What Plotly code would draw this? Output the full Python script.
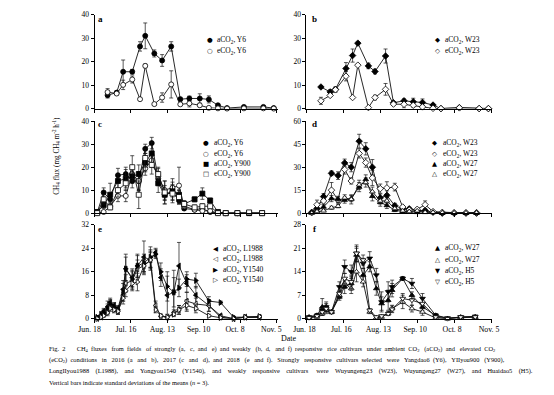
import re
import plotly.graph_objects as go

W, H = 554, 395
SERIF = "Liberation Serif"

# ---------------- data (days after Jun. 18) ----------------
tick_days = [0, 28, 56, 84, 112, 140]
tick_labels = ["Jun. 18", "Jul. 16", "Aug. 13", "Sep. 10", "Oct. 8", "Nov. 5"]

# Panel a (2016)
a_days = [10, 17, 22, 29, 35, 39, 46, 52, 59, 66, 73, 81, 88, 95, 102, 115, 130, 138]
a_aY6 = [5.7, 6.8, 15.7, 15.7, 26.5, 31.0, 23.5, 20.5, 26.5, 4.0, 4.3, 4.3, 3.9, 1.4, 0.2, 0.7, 0.7, 0.2]
a_aY6_sd = [1.2, 0.6, 5.0, 1.0, 2.0, 5.5, 1.5, 2.5, 2.0, 0.8, 1.0, 2.0, 1.5, 0.5, 0.1, 0.3, 0.3, 0.1]
a_eY6 = [7.0, 6.4, 10.1, 12.4, 4.0, 18.2, 1.9, 4.7, 10.3, 1.8, 2.2, 1.4, 0.3, 0.1, 0.0, 0.1, 0.1, 0.0]
a_eY6_sd = [1.5, 0.5, 2.0, 1.5, 0.5, 0.8, 0.3, 2.0, 5.8, 0.5, 1.5, 0.6, 0.2, 0.1, 0.0, 0.1, 0.1, 0.0]

# Panel b (2016)
b_days = [11, 18, 22, 30, 35, 39, 47, 52, 60, 66, 74, 81, 88, 96, 102, 116, 131, 138]
b_aW23 = [9.2, 7.1, 8.2, 17.1, 22.6, 27.9, 18.2, 15.8, 22.4, 2.5, 3.3, 2.9, 2.6, 1.5, 0.0, 0.4, 0.0, 0.0]
b_aW23_sd = [0.5, 1.0, 1.0, 2.5, 2.8, 0.5, 1.2, 1.0, 3.0, 0.5, 0.8, 1.5, 1.5, 0.5, 0.0, 0.2, 0.0, 0.0]
b_eW23 = [3.3, 5.6, 8.0, 13.8, 4.7, 18.5, 0.4, 4.7, 8.2, 1.9, 1.8, 1.4, 0.7, 0.1, 0.0, 0.3, 0.0, 0.0]
b_eW23_sd = [1.5, 0.5, 1.0, 2.0, 0.3, 0.5, 0.2, 1.0, 2.5, 0.5, 1.5, 0.8, 0.5, 0.1, 0.0, 0.1, 0.0, 0.0]

# Panel c (2017)
c_days = [2, 7, 12, 18, 24, 29, 34, 39, 44, 49, 54, 60, 65, 69, 77, 83, 89, 95, 101, 110, 119, 129]
c_aY6 = [0.3, 9.0, 6.0, 16.5, 17.0, 14.0, 14.0, 28.0, 30.5, 15.0, 8.0, 9.0, 5.5, 2.0, 1.5, 2.0, 0.5, 0.0, 0.0, 0.0, 0.0, 0.0]
c_aY6_sd = [0.2, 2.0, 1.5, 3.0, 3.0, 3.0, 4.0, 2.0, 2.5, 3.0, 2.5, 3.0, 1.5, 0.5, 0.5, 0.5, 0.3, 0.0, 0.0, 0.0, 0.0, 0.0]
c_eY6 = [0.0, 0.5, 3.0, 7.5, 7.5, 17.0, 14.0, 19.5, 23.0, 16.0, 10.0, 11.0, 12.0, 3.0, 1.5, 1.0, 1.0, 0.0, 0.0, 0.0, 0.0, 0.0]
c_eY6_sd = [0.0, 0.5, 1.0, 2.5, 2.5, 3.0, 4.0, 3.0, 3.0, 3.5, 4.0, 4.0, 8.0, 1.0, 0.5, 0.5, 0.5, 0.0, 0.0, 0.0, 0.0, 0.0]
c_aY900 = [0.5, 3.5, 8.0, 14.0, 15.0, 16.0, 17.0, 22.0, 26.0, 13.0, 8.0, 9.5, 8.0, 4.0, 6.0, 8.5, 5.5, 0.5, 0.0, 0.0, 0.0, 0.0]
c_aY900_sd = [0.3, 1.5, 5.0, 3.0, 4.0, 3.0, 4.0, 4.0, 5.0, 4.0, 4.0, 4.0, 2.0, 1.0, 1.0, 2.5, 1.0, 0.3, 0.0, 0.0, 0.0, 0.0]
c_eY900 = [0.0, 6.0, 2.5, 10.0, 13.0, 20.0, 8.0, 24.0, 21.0, 17.0, 9.0, 8.5, 7.0, 4.0, 2.5, 3.0, 3.0, 0.0, 0.0, 0.0, 0.3, 0.0]
c_eY900_sd = [0.0, 2.0, 1.0, 3.0, 3.0, 5.0, 6.0, 4.0, 4.0, 3.0, 5.0, 4.0, 3.0, 1.5, 1.0, 1.0, 1.0, 0.0, 0.0, 0.0, 0.2, 0.0]

# Panel d (2017)
d_days = [4, 8, 13, 19, 24, 29, 34, 40, 45, 50, 56, 61, 67, 73, 78, 84, 90, 96, 103, 112, 121, 129]
d_aW23 = [0.5, 3.0, 10.8, 26.0, 24.5, 32.8, 30.0, 47.0, 42.0, 30.0, 10.0, 11.6, 4.9, 2.8, 2.8, 1.7, 1.7, 0.6, 0.0, 0.0, 0.0, 0.0]
d_aW23_sd = [0.3, 1.5, 2.0, 1.5, 2.5, 2.5, 3.0, 4.5, 4.0, 5.0, 2.5, 3.0, 1.5, 1.0, 1.0, 0.5, 0.5, 0.3, 0.0, 0.0, 0.0, 0.0]
d_eW23 = [0.3, 5.5, 8.0, 15.0, 8.5, 28.5, 21.0, 39.0, 33.0, 23.0, 16.0, 16.5, 17.0, 4.0, 2.0, 2.5, 5.5, 1.0, 0.5, 0.3, 0.3, 0.3]
d_eW23_sd = [0.2, 3.0, 2.0, 5.0, 2.0, 3.0, 2.0, 3.0, 3.0, 5.0, 3.0, 4.0, 2.5, 1.0, 1.0, 1.0, 2.5, 0.5, 0.2, 0.1, 0.1, 0.1]
d_aW27 = [0.5, 1.5, 4.0, 9.5, 9.0, 8.5, 9.5, 17.0, 22.0, 11.0, 7.0, 5.0, 2.0, 1.0, 1.0, 0.5, 1.0, 0.5, 0.0, 0.0, 0.0, 0.0]
d_aW27_sd = [0.2, 1.0, 1.5, 2.0, 2.0, 2.0, 2.0, 3.0, 3.0, 3.0, 2.5, 2.0, 1.0, 0.5, 0.5, 0.3, 0.5, 0.3, 0.0, 0.0, 0.0, 0.0]
d_eW27 = [0.0, 1.0, 1.5, 3.5, 4.5, 10.0, 9.0, 18.5, 20.0, 14.0, 8.0, 8.0, 3.0, 1.5, 1.0, 1.5, 0.5, 0.5, 0.3, 0.2, 0.2, 0.2]
d_eW27_sd = [0.0, 0.5, 0.5, 1.0, 1.0, 2.0, 3.0, 3.0, 3.0, 3.0, 2.0, 2.0, 1.0, 0.5, 0.5, 0.5, 0.3, 0.2, 0.1, 0.1, 0.1, 0.1]

# Panel e (2018)
e_days = [2, 5, 7, 10, 12, 15, 18, 22, 24, 29, 33, 38, 43, 47, 51, 56, 61, 65, 71, 78, 88, 97, 107, 116, 127]
e_aL1988 = [0.3, 1.0, 2.5, 4.0, 5.5, 4.5, 3.5, 10.0, 17.0, 14.0, 18.0, 21.0, 20.0, 22.5, 14.0, 8.0, 9.0, 18.0, 12.0, 8.0, 4.5, 1.0, 0.0, 0.5, 0.5]
e_aL1988_sd = [0.2, 0.5, 1.0, 2.0, 1.5, 1.0, 1.0, 3.0, 5.0, 3.0, 4.0, 5.5, 3.5, 1.5, 3.0, 6.5, 7.5, 8.0, 3.0, 3.0, 2.0, 0.5, 0.0, 0.3, 0.3]
e_eL1988 = [0.0, 0.5, 1.5, 2.5, 4.5, 3.5, 2.5, 8.0, 12.0, 13.0, 17.0, 18.0, 20.0, 4.5, 0.8, 0.5, 2.0, 3.0, 6.0, 5.0, 4.5, 0.5, 0.0, 0.5, 0.5]
e_eL1988_sd = [0.0, 0.3, 0.5, 1.0, 1.5, 1.0, 1.0, 2.0, 3.0, 3.0, 3.0, 2.0, 2.5, 1.5, 0.3, 0.3, 1.0, 1.5, 3.0, 2.0, 2.0, 0.3, 0.0, 0.3, 0.3]
e_aY1540 = [0.5, 1.5, 2.0, 3.5, 5.0, 4.0, 3.0, 9.0, 17.0, 13.5, 18.0, 19.0, 21.0, 22.0, 16.0, 11.0, 9.0, 10.5, 13.5, 13.0, 6.0, 5.5, 0.5, 0.5, 0.7]
e_aY1540_sd = [0.3, 0.8, 1.0, 1.5, 1.5, 1.0, 1.0, 3.0, 4.0, 3.0, 3.5, 3.0, 3.5, 1.5, 3.0, 5.0, 5.0, 3.0, 2.5, 2.5, 1.5, 0.5, 0.2, 0.3, 0.3]
e_eY1540 = [0.0, 0.5, 1.0, 2.0, 3.5, 3.0, 2.5, 7.0, 9.5, 12.0, 12.5, 18.0, 20.0, 3.0, 1.0, 0.5, 1.5, 3.0, 4.5, 3.5, 1.0, 0.3, 0.0, 0.5, 0.7]
e_eY1540_sd = [0.0, 0.3, 0.5, 1.0, 1.0, 1.0, 1.0, 2.0, 2.0, 2.5, 3.0, 3.0, 3.0, 1.0, 0.3, 0.3, 0.8, 1.5, 2.0, 1.5, 0.5, 0.2, 0.0, 0.2, 0.3]

# Panel f (2018)
f_days = [2, 8, 12, 15, 19, 25, 29, 34, 38, 43, 48, 53, 57, 62, 65, 73, 80, 88, 98, 107, 117, 128]
f_aW27 = [0.5, 1.0, 3.5, 3.5, 2.0, 6.5, 9.5, 10.5, 19.0, 13.0, 15.5, 9.0, 4.5, 5.5, 8.5, 12.0, 7.0, 3.5, 1.0, 0.0, 0.5, 0.5]
f_aW27_sd = [0.2, 0.5, 2.5, 1.5, 0.5, 1.0, 2.0, 2.0, 2.0, 2.0, 1.5, 2.0, 2.0, 3.0, 2.0, 0.5, 1.0, 1.0, 0.5, 0.0, 0.3, 0.3]
f_aH5 = [0.5, 1.0, 2.5, 3.5, 2.0, 9.5, 15.5, 14.0, 19.5, 16.5, 18.0, 13.0, 5.0, 8.0, 9.5, 12.0, 10.5, 6.0, 1.0, 0.2, 0.5, 0.7]
f_aH5_sd = [0.2, 0.5, 1.0, 1.0, 0.5, 1.5, 2.0, 2.0, 2.5, 1.5, 2.0, 2.0, 3.0, 3.0, 2.0, 0.5, 1.5, 1.5, 0.5, 0.1, 0.3, 0.3]
f_eW27 = [0.3, 0.5, 1.5, 2.5, 2.0, 7.0, 10.5, 9.0, 14.0, 11.0, 2.0, 0.3, 0.5, 1.5, 3.0, 5.0, 3.0, 2.0, 0.2, 0.0, 0.3, 0.5]
f_eW27_sd = [0.1, 0.3, 0.5, 1.0, 0.5, 1.0, 1.5, 1.5, 3.0, 1.5, 0.5, 0.2, 0.3, 0.5, 1.0, 2.0, 1.0, 1.0, 0.1, 0.0, 0.1, 0.2]
f_eH5 = [0.3, 0.8, 2.0, 3.0, 2.0, 7.5, 12.0, 11.0, 19.5, 17.5, 2.5, 0.5, 0.8, 1.5, 2.8, 6.0, 5.5, 4.5, 0.5, 0.0, 0.5, 0.5]
f_eH5_sd = [0.1, 0.3, 0.5, 1.0, 0.5, 1.0, 1.5, 2.0, 2.0, 1.5, 0.5, 0.2, 0.3, 0.5, 1.0, 1.5, 1.5, 1.5, 0.2, 0.0, 0.2, 0.2]

caption = [
    "Fig. 2   CH<sub>4</sub> fluxes from fields of strongly (a, c, and e) and weakly (b, d, and f) responsive rice cultivars under ambient CO<sub>2</sub> (aCO<sub>2</sub>) and elevated CO<sub>2</sub>",
    "(eCO<sub>2</sub>) conditions in 2016 (a and b), 2017 (c and d), and 2018 (e and f). Strongly responsive cultivars selected were Yangdao6 (Y6), YIIyou900 (Y900),",
    "LongIIyou1988 (L1988), and Yongyou1540 (Y1540), and weakly responsive cultivars were Wuyungeng23 (W23), Wuyungeng27 (W27), and Huaidao5 (H5).",
    "Vertical bars indicate standard deviations of the means (<i>n</i> = 3).",
]

# ---------------- layout geometry (pixels) ----------------
cols = [(82, 273), (303, 497)]
rows = [(11, 107), (120, 214), (226, 322)]


def px_x(p):
    return p / W


def px_y(p):
    return 1 - p / H


S2 = "<sub>2</sub>"
panels = [
    dict(letter="a", col=0, row=0, days=a_days, ymax=40, dtick=10,
         series=[("aCO" + S2 + ", Y6", a_aY6, a_aY6_sd, "circle", True, "●"),
                 ("eCO" + S2 + ", Y6", a_eY6, a_eY6_sd, "circle", False, "○")],
         leg=(202.7, 208, [36.7, 47.7])),
    dict(letter="b", col=1, row=0, days=b_days, ymax=40, dtick=10,
         series=[("aCO" + S2 + ", W23", b_aW23, b_aW23_sd, "diamond", True, "◆"),
                 ("eCO" + S2 + ", W23", b_eW23, b_eW23_sd, "diamond", False, "◇")],
         leg=(440, 446, [37, 48])),
    dict(letter="c", col=0, row=1, days=c_days, ymax=40, dtick=10,
         series=[("aCO" + S2 + ", Y6", c_aY6, c_aY6_sd, "circle", True, "●"),
                 ("eCO" + S2 + ", Y6", c_eY6, c_eY6_sd, "circle", False, "○"),
                 ("aCO" + S2 + ", Y900", c_aY900, c_aY900_sd, "square", True, "■"),
                 ("eCO" + S2 + ", Y900", c_eY900, c_eY900_sd, "square", False, "□")],
         leg=(198, 205, [142.3, 153, 164, 174.3])),
    dict(letter="d", col=1, row=1, days=d_days, ymax=60, dtick=15,
         series=[("aCO" + S2 + ", W23", d_aW23, d_aW23_sd, "diamond", True, "◆"),
                 ("eCO" + S2 + ", W23", d_eW23, d_eW23_sd, "diamond", False, "◇"),
                 ("aCO" + S2 + ", W27", d_aW27, d_aW27_sd, "triangle-up", True, "▲"),
                 ("eCO" + S2 + ", W27", d_eW27, d_eW27_sd, "triangle-up", False, "△")],
         leg=(436.7, 443, [142, 153, 164, 174])),
    dict(letter="e", col=0, row=2, days=e_days, ymax=32, dtick=8,
         series=[("aCO" + S2 + ", L1988", e_aL1988, e_aL1988_sd, "triangle-left", True, "◀"),
                 ("eCO" + S2 + ", L1988", e_eL1988, e_eL1988_sd, "triangle-left", False, "◁"),
                 ("aCO" + S2 + ", Y1540", e_aY1540, e_aY1540_sd, "triangle-right", True, "▶"),
                 ("eCO" + S2 + ", Y1540", e_eY1540, e_eY1540_sd, "triangle-right", False, "▷")],
         leg=(207.7, 214, [250.7, 260.7, 272, 282])),
    dict(letter="f", col=1, row=2, days=f_days, ymax=28, dtick=7,
         series=[("aCO" + S2 + ", W27", f_aW27, f_aW27_sd, "triangle-up", True, "▲"),
                 ("eCO" + S2 + ", W27", f_eW27, f_eW27_sd, "triangle-up", False, "△"),
                 ("aCO" + S2 + ", H5", f_aH5, f_aH5_sd, "triangle-down", True, "▼"),
                 ("eCO" + S2 + ", H5", f_eH5, f_eH5_sd, "triangle-down", False, "▽")],
         leg=(439.3, 446, [250, 261.7, 273, 284])),
]

fig = go.Figure()
annotations = []
layout = {}

for i, p in enumerate(panels, start=1):
    xa = "x" if i == 1 else f"x{i}"
    ya = "y" if i == 1 else f"y{i}"
    xkey = "xaxis" if i == 1 else f"xaxis{i}"
    ykey = "yaxis" if i == 1 else f"yaxis{i}"
    c0, c1 = cols[p["col"]]
    r0, r1 = rows[p["row"]]
    bottom = p["row"] == 2
    layout[xkey] = dict(
        domain=[px_x(c0), px_x(c1)], range=[0, 141], anchor=ya,
        showline=True, linecolor="black", linewidth=1,
        ticks="outside", ticklen=3, tickcolor="black", tickwidth=1,
        tickvals=tick_days, ticktext=tick_labels, showticklabels=bottom,
        ticklabelshift=-5 if p["col"] == 0 else -2,
        tickfont=dict(family=SERIF, size=7.8, color="black"),
        showgrid=False, zeroline=False, fixedrange=True,
    )
    layout[ykey] = dict(
        domain=[px_y(r1), px_y(r0)], range=[0, p["ymax"]], anchor=xa,
        dtick=p["dtick"], tick0=0,
        showline=True, linecolor="black", linewidth=1,
        ticks="outside", ticklen=3, tickcolor="black", tickwidth=1,
        tickfont=dict(family=SERIF, size=7.5, color="black"),
        showgrid=False, zeroline=False, fixedrange=True,
    )
    for name, vals, sd, sym, filled, glyph in p["series"]:
        fig.add_trace(go.Scatter(
            x=p["days"], y=vals, xaxis=xa, yaxis=ya, name=name,
            mode="lines+markers", cliponaxis=False, showlegend=False,
            line=dict(color="#111111", width=0.9),
            marker=dict(symbol=sym, size=5,
                        color="black" if filled else "white",
                        line=dict(color="black", width=0.8)),
            error_y=dict(type="data", array=sd, visible=True,
                         color="#111111", thickness=0.7, width=2),
        ))
    # legend entries
    sx, tx, ys = p["leg"]
    for (name, vals, sd, sym, filled, glyph), yy in zip(p["series"], ys):
        annotations.append(dict(
            x=px_x(sx), y=px_y(yy), xref="paper", yref="paper",
            text=glyph, showarrow=False, xanchor="center", yanchor="middle",
            font=dict(family="DejaVu Sans", size=6.5, color="black")))
        annotations.append(dict(
            x=px_x(tx), y=px_y(yy), xref="paper", yref="paper",
            text=name, showarrow=False, xanchor="left", yanchor="middle",
            font=dict(family=SERIF, size=7.5, color="black")))
    # panel letter
    lx = 88 if p["col"] == 0 else 311.5
    ly = {0: 15, 1: 123, 2: 230}[p["row"]]
    annotations.append(dict(
        x=px_x(lx), y=px_y(ly), xref="paper", yref="paper",
        text="<b>" + p["letter"] + "</b>", showarrow=False,
        xanchor="center", yanchor="middle",
        font=dict(family=SERIF, size=9, color="black")))

# axis titles
annotations.append(dict(
    x=px_x(43), y=px_y(155), xref="paper", yref="paper",
    text="CH<sub>4</sub> flux (mg CH<sub>4</sub> m<sup>-2</sup> h<sup>-1</sup>)",
    textangle=-90, showarrow=False, xanchor="center", yanchor="middle",
    font=dict(family=SERIF, size=7.2, color="black")))
annotations.append(dict(
    x=px_x(285), y=px_y(342.5), xref="paper", yref="paper", text="Date",
    showarrow=False, xanchor="center", yanchor="middle",
    font=dict(family=SERIF, size=8, color="black")))

# caption: justify the first three lines by widening word gaps
CAP_SIZE = 6.4
PX_PER_CHAR = 2.62          # approx. average glyph advance at CAP_SIZE
SPACE_PX = 2.5              # approx. advance of one extra no-break space
TARGET_W = 494


def justify(line):
    plain = re.sub(r"<[^>]+>", "", line)
    natural = len(plain) * PX_PER_CHAR
    parts = line.split(" ")
    gaps = len(parts) - 1
    extra = max(0.0, TARGET_W - natural)
    add = extra / SPACE_PX / gaps
    out = parts[0]
    acc = 0.0
    for w in parts[1:]:
        acc += add
        n = int(acc)
        acc -= n
        out += " " + "&nbsp;" * n + w
    return out


cap_y = [353, 364.5, 376, 387.5]
for k, (line, yy) in enumerate(zip(caption, cap_y)):
    txt = justify(line) if k < 3 else line
    annotations.append(dict(
        x=px_x(32), y=px_y(yy), xref="paper", yref="paper", text=txt,
        showarrow=False, xanchor="left", yanchor="middle",
        font=dict(family=SERIF, size=CAP_SIZE, color="black")))

fig.update_layout(
    width=W, height=H, margin=dict(l=0, r=0, t=0, b=0),
    paper_bgcolor="white", plot_bgcolor="white",
    showlegend=False, annotations=annotations, **layout,
)

fig.write_html(
    "out.html",
    config={"displayModeBar": False},
    post_script=("document.body.style.margin='0px';"
                 "document.body.style.overflow='hidden';"
                 "document.documentElement.style.overflow='hidden';"),
)
